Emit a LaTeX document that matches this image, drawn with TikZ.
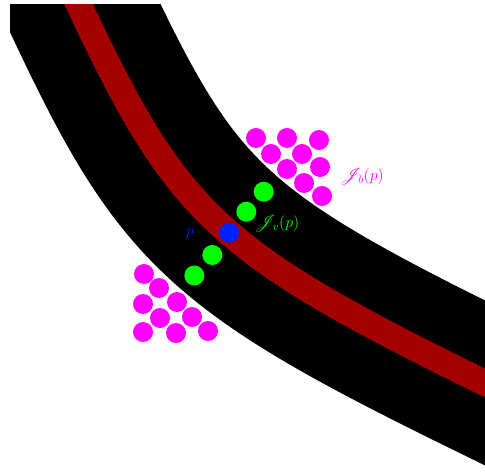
\documentclass[tikz,border=0pt]{standalone}
\usepackage{fix-cm}
\usepackage{mathrsfs}
\definecolor{bandred}{RGB}{163,0,0}
\definecolor{dotmag}{RGB}{255,0,255}
\definecolor{dotgreen}{RGB}{0,255,0}
\definecolor{dotblue}{RGB}{0,32,255}
\tikzset{
  magdot/.style={circle,fill=dotmag,inner sep=0pt,minimum size=20pt},
  greendot/.style={circle,fill=dotgreen,inner sep=0pt,minimum size=20pt},
  bluedot/.style={circle,fill=dotblue,inner sep=0pt,minimum size=20pt},
  lbl/.style={inner sep=0pt,font=\fontsize{16}{19}\selectfont}
}
\begin{document}
\begin{tikzpicture}[x=1pt,y=-1pt]
\useasboundingbox (0,0) rectangle (485,473);
% the curved road and its centre line, clipped to the frame
\begin{scope}
  \clip (10,5) rectangle (485,473);
  \def\roadpath{(53.4,-49.3) -- (79,5) .. controls (177,213) and (215,250.7) .. (485,383) -- (575,427)}
  \draw[line width=148pt,black] \roadpath;
  \draw[line width=26pt,bandred] \roadpath;
\end{scope}
% boundary samples
\foreach \x/\y [count=\i] in {256/138,287/138,319/140,271/154,302/154,287/169,320/167,304/183,322/196}
  \node[magdot] (b\i) at (\x,\y) {};
\foreach \x/\y [count=\i] in {144/274,159/288,143/304,177/302,160/318,192/317,143/332,176/333,208/331}
  \node[magdot] (c\i) at (\x,\y) {};
% samples along the normal through p
\node[greendot] (g1) at (194.3,275.5) {};
\node[greendot] (g2) at (212.3,255) {};
\node[greendot] (g3) at (246.3,211.7) {};
\node[greendot] (g4) at (263.7,191.7) {};
\node[bluedot] (p) at (229,232.7) {};
% labels
\node[lbl,text=dotmag] (lb) at (362,177) {$\mathscr{J}_b(p)$};
\node[lbl,text=dotgreen] (lv) at (277,224) {$\mathscr{J}_v(p)$};
\node[lbl,text=dotblue] (lp) at (190,234) {$p$};
\end{tikzpicture}
\end{document}
